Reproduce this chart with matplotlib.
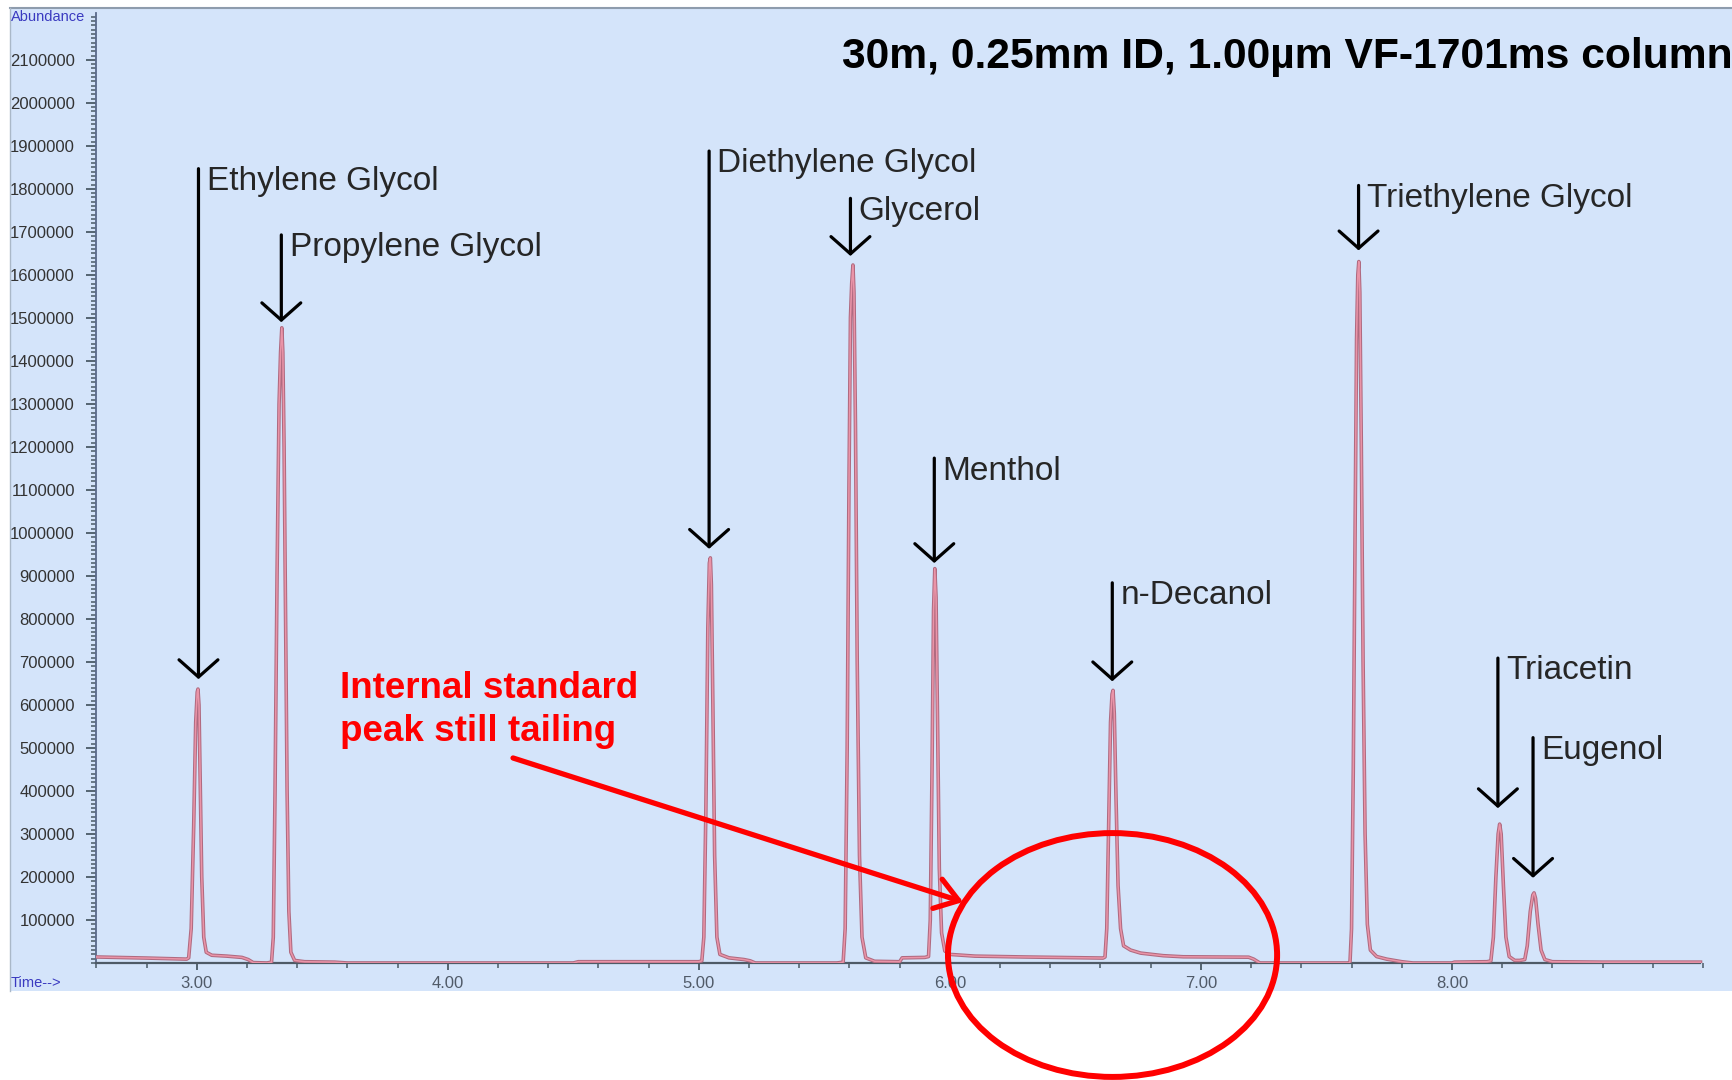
import matplotlib
matplotlib.use('Agg')
import matplotlib.pyplot as plt
import matplotlib.patheffects as pe
from matplotlib.patches import Rectangle, Ellipse
from matplotlib.lines import Line2D
from matplotlib.ticker import MultipleLocator, FixedLocator

plt.rcParams['font.family'] = ['Liberation Sans', 'DejaVu Sans']

# chromatogram trace (time in min, abundance)
trace_time = [
    2.60, 2.80, 2.96,
    2.968, 2.978, 2.988, 2.996, 3.002, 3.005, 3.009, 3.014, 3.020, 3.028,
    3.038, 3.060, 3.120, 3.180, 3.205, 3.225, 3.28,
    3.298, 3.305, 3.312, 3.320, 3.328, 3.334, 3.339, 3.343, 3.348, 3.354,
    3.360, 3.367, 3.375, 3.390, 3.43, 3.55, 3.60, 4.50, 4.52, 5.00,
    5.012, 5.020, 5.028, 5.036, 5.042, 5.046, 5.050, 5.056, 5.063, 5.072,
    5.084, 5.12, 5.18, 5.205, 5.225, 5.55,
    5.575, 5.583, 5.591, 5.598, 5.604, 5.609, 5.614, 5.618, 5.624, 5.631,
    5.640, 5.650, 5.665, 5.70, 5.80, 5.81, 5.90,
    5.915, 5.922, 5.929, 5.935, 5.940, 5.945, 5.951, 5.958, 5.967, 5.980,
    6.00, 6.10, 6.30, 6.50, 6.61,
    6.618, 6.625, 6.632, 6.640, 6.646, 6.650, 6.655, 6.662, 6.670, 6.680,
    6.692, 6.72, 6.76, 6.85, 6.93, 7.10, 7.19, 7.21, 7.235, 7.59,
    7.594, 7.600, 7.607, 7.614, 7.620, 7.625, 7.629, 7.633, 7.639, 7.646,
    7.654, 7.663, 7.675, 7.70, 7.74, 7.80, 7.845, 8.00, 8.01, 8.14,
    8.155, 8.165, 8.175, 8.184, 8.190, 8.196, 8.205, 8.215, 8.228, 8.250,
    8.270, 8.290, 8.300, 8.312, 8.322, 8.327, 8.333, 8.343, 8.355, 8.370,
    8.40, 8.60, 8.99,
]
trace_abund = [
    14000, 11500, 9000,
    12000, 80000, 320000, 560000, 630000, 637000, 600000, 420000, 200000, 60000,
    25000, 18000, 16000, 13000, 8000, 1000, 0,
    2000, 60000, 400000, 900000, 1300000, 1420000, 1477000, 1420000, 1200000, 800000,
    400000, 120000, 25000, 6000, 3000, 2000, 0, 0, 3000, 3000,
    5000, 60000, 350000, 780000, 930000, 942000, 880000, 600000, 250000, 60000,
    20000, 12000, 8000, 5000, 0, 0,
    2000, 80000, 500000, 1100000, 1500000, 1580000, 1623000, 1560000, 1250000, 700000,
    250000, 60000, 12000, 4000, 3000, 12000, 13000,
    15000, 100000, 450000, 820000, 917000, 850000, 550000, 220000, 70000, 28000,
    20000, 16000, 14000, 12500, 11500,
    14000, 80000, 300000, 560000, 625000, 634000, 580000, 380000, 180000, 80000,
    40000, 30000, 23000, 17000, 14500, 14000, 13500, 9000, 0, 0,
    3000, 80000, 450000, 1000000, 1450000, 1600000, 1631000, 1560000, 1200000, 700000,
    300000, 90000, 30000, 15000, 9000, 3000, 0, 0, 2000, 3000,
    5000, 60000, 200000, 300000, 323000, 300000, 180000, 60000, 15000, 6000,
    6000, 8000, 40000, 120000, 158000, 163000, 150000, 90000, 30000, 8000,
    3000, 2000, 2000,
]

# peak labels and their arrows
peak_names = ['Ethylene Glycol', 'Propylene Glycol', 'Diethylene Glycol',
              'Glycerol', 'Menthol', 'n-Decanol', 'Triethylene Glycol',
              'Triacetin', 'Eugenol']
arrow_time = [3.007, 3.337, 5.041, 5.604, 5.938, 6.647, 7.628, 8.183, 8.323]
arrow_top = [1847000, 1693000, 1888000, 1778000, 1174000, 884000, 1808000,
             709000, 524000]
arrow_tip = [660000, 1490000, 963000, 1644000, 930000, 655000, 1657000,
             360000, 198000]

y_ticks = list(range(100000, 2200000, 100000))
x_ticks = [3.0, 4.0, 5.0, 6.0, 7.0, 8.0]

W, H = 1732, 1080
fig = plt.figure(figsize=(W / 100, H / 100), dpi=100)
fig.patch.set_facecolor('white')

# blue panel behind the chromatogram
fig.add_artist(Rectangle((10 / W, 1 - 991 / H), (W - 10) / W, (991 - 8) / H,
                         transform=fig.transFigure, fc='#d4e4fa', ec='none',
                         zorder=0))
fig.add_artist(Line2D([10 / W, 1], [1 - 8 / H, 1 - 8 / H],
                      transform=fig.transFigure, color='#8e9cad', lw=1.5))
fig.add_artist(Line2D([10 / W, 10 / W], [1 - 8 / H, 1 - 991 / H],
                      transform=fig.transFigure, color='#aab8c8', lw=1.0))

ax = fig.add_axes([96.3 / W, 1 - 963 / H, (1703 - 96.3) / W, (963 - 13) / H])
ax.set_facecolor('none')
ax.set_xlim(2.6, 9.0)
ax.set_ylim(0, 2209000)

line, = ax.plot(trace_time, trace_abund, color='#ea94a8', lw=1.1, zorder=3)
line.set_path_effects([pe.Stroke(linewidth=2.6, foreground='#b06a80'),
                       pe.Normal()])

for sp in ['top', 'right']:
    ax.spines[sp].set_visible(False)
ax.spines['left'].set_color('#5a6a8a')
ax.spines['left'].set_linewidth(1.3)
ax.spines['bottom'].set_color('#4e5a66')
ax.spines['bottom'].set_linewidth(1.6)
ax.spines['bottom'].set_bounds(2.6, 8.99)

ax.yaxis.set_major_locator(FixedLocator(y_ticks))
ax.yaxis.set_minor_locator(MultipleLocator(10000))
ax.set_yticklabels([str(v) for v in y_ticks])
ax.xaxis.set_major_locator(FixedLocator(x_ticks))
ax.xaxis.set_minor_locator(MultipleLocator(0.2))
ax.set_xticklabels(['%.2f' % v for v in x_ticks])

ax.tick_params(axis='y', which='major', direction='out', length=7.5,
               width=1.3, color='#4a5a66', pad=8, labelsize=12,
               labelcolor='#333333')
ax.tick_params(axis='y', which='minor', direction='out', length=3.5,
               width=1.1, color='#4a5a66')
ax.tick_params(axis='x', which='major', direction='out', length=5,
               width=1.3, color='#4a5a66', pad=4, labelsize=12,
               labelcolor='#505a68')
ax.tick_params(axis='x', which='minor', direction='out', length=3.5,
               width=1.1, color='#4a5a66')

fig.text(11 / W, 1 - 17 / H, 'Abundance', color='#3a3ac0', fontsize=10.5,
         ha='left', va='center')
fig.text(11 / W, 1 - 983 / H, 'Time-->', color='#3a3ac0', fontsize=10.5,
         ha='left', va='center')

# peak arrows and names
for name, t, top, tip in zip(peak_names, arrow_time, arrow_top, arrow_tip):
    ax.annotate('', xy=(t, tip), xytext=(t, top),
                arrowprops=dict(arrowstyle='->,head_length=0.62,head_width=0.7',
                                mutation_scale=20, color='black', lw=2.3,
                                shrinkA=0, shrinkB=0),
                zorder=4)
    ax.text(t + 0.033, top - 30000, name, fontsize=24, color='#262626',
            ha='left', va='center', zorder=4)

# title of the column
fig.text(842 / W, 1 - 57 / H, '30m, 0.25mm ID, 1.00\u00b5m VF-1701ms column',
         fontsize=30.7, fontweight='bold', color='black', ha='left',
         va='center')

# internal standard note
ax.text(3.57, 680000, 'Internal standard\npeak still tailing', fontsize=26.5,
        fontweight='bold', color='#ff0000', ha='left', va='top',
        linespacing=1.3, zorder=5)
ax.annotate('', xy=(6.053, 141900), xytext=(4.260, 476700),
            arrowprops=dict(arrowstyle='->,head_length=0.8,head_width=0.55',
                            mutation_scale=20, color='#ff0000', lw=3.8,
                            shrinkA=0, shrinkB=0),
            zorder=5, annotation_clip=False)
ax.add_patch(Ellipse((6.648, 18600), 1.311, 567000, fill=False,
                     ec='#ff0000', lw=4.3, clip_on=False, zorder=5))

fig.savefig('out.png', dpi=100)
